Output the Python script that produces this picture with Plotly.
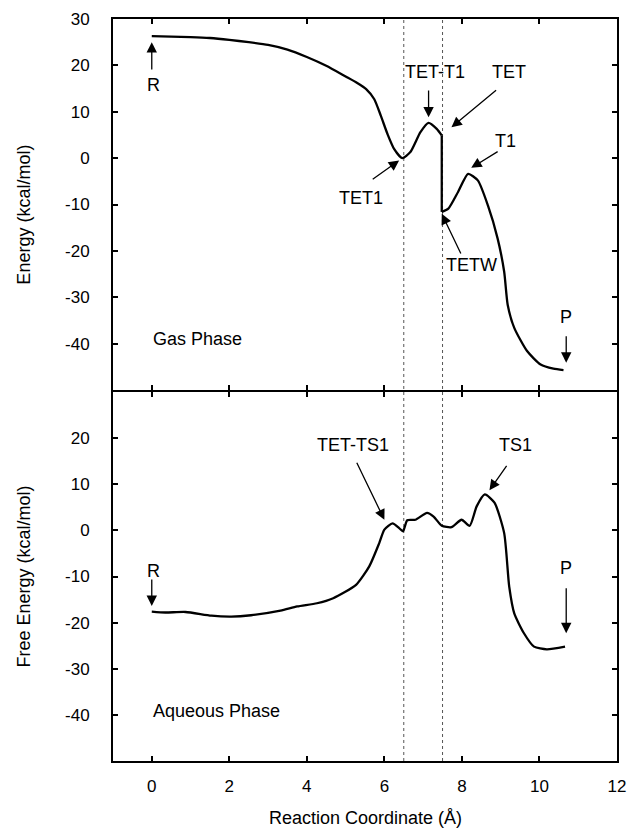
import plotly.graph_objects as go

# ---------------- data ----------------
gas_x = [0, 0.5, 1, 1.5, 2, 2.5, 3, 3.5, 4.0, 4.5, 5.0, 5.3, 5.53, 5.74, 5.91, 6.08, 6.25,
         6.46, 6.67, 6.93, 7.14, 7.35, 7.48, 7.48, 7.65, 7.90, 8.16, 8.41, 8.67,
         8.92, 9.09, 9.18, 9.35, 9.68, 10.03, 10.36, 10.62]
gas_y = [26.3, 26.2, 26.1, 25.9, 25.5, 25.0, 24.4, 23.4, 21.8, 19.9, 17.6, 16.2, 14.9,
         12.7, 9.1, 5.2, 2.0, 0.0, 1.3, 5.6, 7.6, 6.3, 4.9, -11.6, -10.9, -7.3,
         -3.4, -4.8, -10.2, -17.3, -24.5, -31.6, -36.6, -41.6, -44.5, -45.4, -45.7]
gas_break = 22  # index of last point before the vertical drop

aq_x = [0, 0.35, 0.87, 1.54, 2.05, 2.56, 3.32, 3.75, 4.26, 4.68, 5.27, 5.61, 5.87, 6.0,
        6.21, 6.38, 6.48, 6.59, 6.80, 7.10, 7.27, 7.48, 7.73, 7.99, 8.20, 8.38, 8.59,
        8.84, 9.09, 9.22, 9.35, 9.60, 9.86, 10.19, 10.66]
aq_y = [-17.6, -17.8, -17.7, -18.5, -18.7, -18.4, -17.4, -16.5, -15.8, -14.7, -11.8,
        -7.8, -2.7, 0.15, 1.5, 0.5, -0.2, 2.2, 2.3, 3.8, 3.0, 1.0, 0.7, 2.3, 1.0, 5.2,
        7.8, 6.0, -0.6, -12.2, -18.0, -22.3, -25.2, -25.8, -25.2]

x_ticks = [0, 2, 4, 6, 8, 10, 12]
gas_ticks = [-40, -30, -20, -10, 0, 10, 20, 30]
aq_ticks = [-40, -30, -20, -10, 0, 10, 20]
divider_x = [6.5, 7.5]

# labels: (text, text_x, text_y, arrow_tail_x, arrow_tail_y, arrow_head_x, arrow_head_y)
gas_labels = [
    ("R", 0.05, 15.7, 0.0, 18.8, 0.0, 25.0),
    ("TET-T1", 7.31, 18.5, 7.14, 14.9, 7.14, 8.8),
    ("TET", 9.22, 18.5, 8.92, 14.9, 7.73, 6.65),
    ("T1", 9.13, 3.8, 8.96, 1.6, 8.24, -2.1),
    ("TET1", 5.40, -8.7, 5.66, -4.8, 6.38, -0.5),
    ("TETW", 8.24, -23.0, 7.99, -20.9, 7.48, -12.0),
    ("P", 10.69, -34.3, 10.69, -38.1, 10.69, -44.1),
]
aq_labels = [
    ("R", 0.05, -8.7, 0.0, -10.3, 0.0, -16.4),
    ("TET-TS1", 5.19, 18.6, 5.27, 15.0, 6.0, 2.3),
    ("TS1", 9.39, 18.6, 9.18, 14.3, 8.71, 8.7),
    ("P", 10.69, -8.2, 10.69, -12.2, 10.69, -22.3),
]
panel_titles = [("Gas Phase", "y"), ("Aqueous Phase", "y2")]

FONT = "Liberation Sans, Arial, Helvetica, sans-serif"
TXT = 18
TICK = 17
LINE = dict(color="black", width=2.3, shape="spline", smoothing=0.6)

fig = go.Figure()
# gas phase: smooth part before the drop, vertical drop, smooth part after
fig.add_trace(go.Scatter(x=gas_x[:gas_break + 1], y=gas_y[:gas_break + 1], mode="lines",
                         xaxis="x2", yaxis="y", line=LINE, showlegend=False))
fig.add_trace(go.Scatter(x=gas_x[gas_break:gas_break + 2], y=gas_y[gas_break:gas_break + 2],
                         mode="lines", xaxis="x2", yaxis="y",
                         line=dict(color="black", width=2.3), showlegend=False))
fig.add_trace(go.Scatter(x=gas_x[gas_break + 1:], y=gas_y[gas_break + 1:], mode="lines",
                         xaxis="x2", yaxis="y", line=LINE, showlegend=False))
fig.add_trace(go.Scatter(x=aq_x, y=aq_y, mode="lines", xaxis="x", yaxis="y2",
                         line=LINE, showlegend=False))

ann = []
for labels, xr, yr in [(gas_labels, "x2", "y"), (aq_labels, "x", "y2")]:
    for t, tx, ty, ax_, ay_, hx, hy in labels:
        ann.append(dict(x=tx, y=ty, xref=xr, yref=yr, text=t, showarrow=False,
                        font=dict(size=TXT, color="black", family=FONT)))
        ann.append(dict(x=hx, y=hy, xref=xr, yref=yr, ax=ax_, ay=ay_, axref=xr, ayref=yr,
                        text="", showarrow=True, arrowhead=2, arrowsize=1.6,
                        arrowwidth=1.3, arrowcolor="black"))
for t, yr in panel_titles:
    ann.append(dict(x=-0.03, y=-39.1, xref="x", yref=yr, text=t, showarrow=False,
                    xanchor="left", yanchor="middle",
                    font=dict(size=TXT, color="black", family=FONT)))

# axis titles
title_font = dict(size=TXT, color="black", family=FONT)
ann.append(dict(x=-0.1774, y=0.7358, xref="paper", yref="paper", text="Energy (kcal/mol)",
                textangle=-90, showarrow=False, xanchor="center", yanchor="middle",
                font=title_font))
ann.append(dict(x=-0.1774, y=0.248, xref="paper", yref="paper", text="Free Energy (kcal/mol)",
                textangle=-90, showarrow=False, xanchor="center", yanchor="middle",
                font=title_font))
ann.append(dict(x=0.5, y=-0.0768, xref="paper", yref="paper", text="Reaction Coordinate (Å)",
                showarrow=False, xanchor="center", yanchor="middle", font=title_font))

shapes = []
for xv in divider_x:
    shapes.append(dict(type="line", xref="x", yref="paper", x0=xv, x1=xv, y0=0, y1=1,
                       line=dict(color="#555555", width=1, dash="dot"), layer="below"))

axis_common = dict(showline=True, linecolor="black", linewidth=2, mirror="ticks",
                   ticks="inside", ticklen=5, tickwidth=1.5, tickcolor="black",
                   showgrid=False, zeroline=False,
                   tickfont=dict(size=TICK, color="black", family=FONT))

H = 838 - 19 - 77
split = 0.4973
fig.update_layout(
    width=634, height=838,
    margin=dict(l=113, r=8, t=19, b=77),
    paper_bgcolor="white", plot_bgcolor="white",
    xaxis=dict(domain=[0, 1], anchor="y2", range=[-1, 12], tickvals=x_ticks,
               ticktext=[str(v) for v in x_ticks], ticklabelstandoff=9, **axis_common),
    xaxis2=dict(domain=[0, 1], anchor="y", range=[-1, 12], tickvals=x_ticks,
                matches="x", showticklabels=False, **axis_common),
    yaxis=dict(domain=[split + 2.0 / H, 1], anchor="x2", range=[-50, 30], tickvals=gas_ticks,
               ticktext=[str(v) for v in gas_ticks], ticklabelstandoff=18, **axis_common),
    yaxis2=dict(domain=[0, split], anchor="x", range=[-50, 30], tickvals=aq_ticks,
                ticktext=[str(v) for v in aq_ticks], ticklabelstandoff=18, **axis_common),
    annotations=ann, shapes=shapes,
    font=dict(family=FONT, color="black"),
)

fig.write_html("out.html")
